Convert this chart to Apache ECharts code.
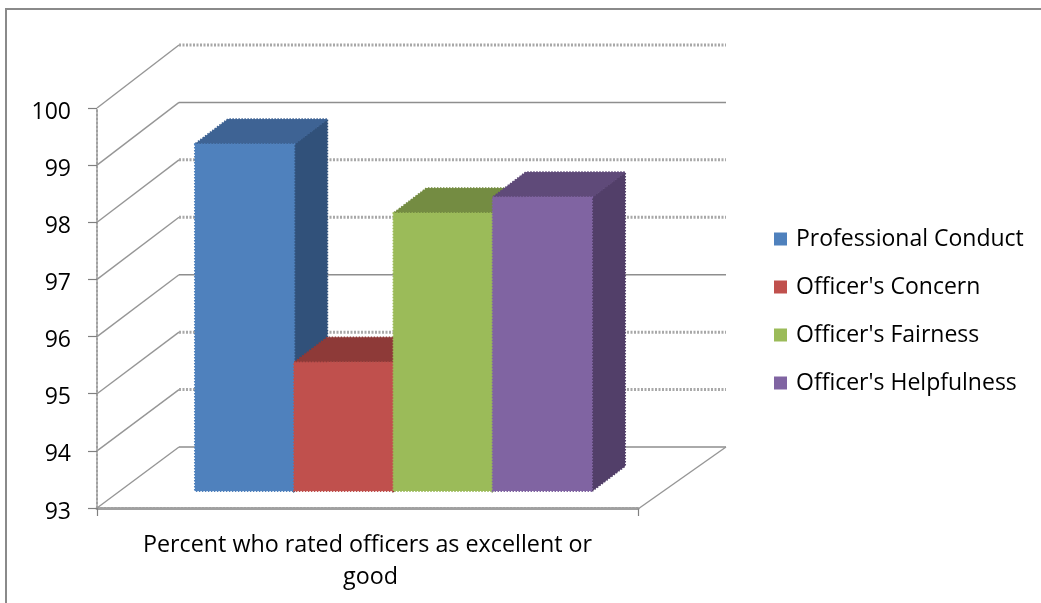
<!DOCTYPE html>
<html><head><meta charset="utf-8">
<style>html,body{margin:0;padding:0;background:#fff}#c{width:1041px;height:603px}</style>
<script src="https://cdn.jsdelivr.net/npm/echarts@6/dist/echarts.min.js"></script>
</head><body><div id="c"></div>
<script>
const categories = ["Percent who rated officers as excellent or good"];
const yMin = 93, yMax = 100, yStep = 1;
const yTicks = [93, 94, 95, 96, 97, 98, 99, 100];
const gridKinds = ["solid", "dotted", "dotted", "solid", "dotted", "dotted", "solid", "dotted"];
const seriesNames = ["Professional Conduct", "Officer's Concern", "Officer's Fairness", "Officer's Helpfulness"];
const professionalConduct = [99.07];
const officersConcern = [95.25];
const officersFairness = [97.86];
const officersHelpfulness = [98.14];
const seriesValues = [professionalConduct, officersConcern, officersFairness, officersHelpfulness];
const frontColors = ["#4F81BD", "#C0504D", "#9BBB59", "#8064A2"];
const topColors = ["#3E6394", "#8E3A38", "#748C42", "#5F4A79"];
const sideColors = ["#31517A", "#6F2D2B", "#5C7034", "#523F69"];

const FONT = '"Open Sans"';
const wallLeftDx = 82, wallRightDx = 88, wallDyLow = -61, wallDyHigh = -63;
const barFrontDx = 26, barFrontDy = -17, barDepthDx = 33, barDepthDy = -25;
const barWidthFrac = 0.1835;

function wallDy(v) { return wallDyLow + (wallDyHigh - wallDyLow) * (v - yMin) / (yMax - yMin); }

function renderWall(params, api) {
  const v = api.value(1);
  const p = api.coord([0, v]);
  const band = api.size([1, 0])[0];
  const left = p[0] - band / 2, right = p[0] + band / 2;
  const dy = wallDy(v);
  const kids = [
    { type: 'line', shape: { x1: left, y1: p[1], x2: left + wallLeftDx, y2: p[1] + dy },
      style: { stroke: '#969696', lineWidth: 1.4 } }
  ];
  const solid = gridKinds[params.dataIndex] === 'solid';
  kids.push({ type: 'line',
    shape: { x1: left + wallLeftDx, y1: p[1] + dy, x2: right + wallRightDx, y2: p[1] + dy },
    style: solid ? { stroke: '#8e8e8e', lineWidth: 1.5 }
                 : { stroke: '#a8a8a8', lineWidth: 3, lineDash: [2, 1.5] } });
  if (v === yMin) {
    kids.push({ type: 'line', shape: { x1: right, y1: p[1] + 1, x2: right + wallRightDx, y2: p[1] + dy },
      style: { stroke: '#969696', lineWidth: 1.4 } });
  }
  return { type: 'group', children: kids };
}

function makeBarRenderer(i) {
  return function (params, api) {
    const v = api.value(1);
    const top = api.coord([0, v]);
    const base = api.coord([0, yMin]);
    const band = api.size([1, 0])[0];
    const w = band * barWidthFrac;
    const x0 = top[0] + (i - 2) * w + barFrontDx;
    const x1 = x0 + w;
    const yT = top[1] + barFrontDy, yB = base[1] + barFrontDy;
    const dash = [1.5, 1.5];
    const poly = (pts, fill) => ({ type: 'polygon', shape: { points: pts },
      style: { fill: fill, stroke: fill, lineWidth: 2, lineDash: dash } });
    const flat = (pts, fill) => ({ type: 'polygon', shape: { points: pts },
      style: { fill: fill, stroke: null } });
    const sidePts = [[x1, yT], [x1 + barDepthDx, yT + barDepthDy], [x1 + barDepthDx, yB + barDepthDy], [x1, yB]];
    const topPts = [[x0, yT], [x1, yT], [x1 + barDepthDx, yT + barDepthDy], [x0 + barDepthDx, yT + barDepthDy]];
    const frontPts = [[x0, yT], [x1, yT], [x1, yB], [x0, yB]];
    return { type: 'group', children: [
      poly(sidePts, sideColors[i]), flat(sidePts, sideColors[i]),
      poly(topPts, topColors[i]), flat(topPts, topColors[i]),
      poly(frontPts, frontColors[i]), flat(frontPts, frontColors[i])
    ] };
  };
}

const series = [{
  type: 'custom', name: 'walls', silent: true, clip: false, z: 1,
  renderItem: renderWall,
  data: yTicks.map(v => [0, v])
}];
seriesNames.forEach((name, i) => {
  series.push({
    type: 'custom', name: name, clip: false, z: 3,
    itemStyle: { color: frontColors[i] },
    renderItem: makeBarRenderer(i),
    data: seriesValues[i].map((v, k) => [k, v])
  });
});

const chart = echarts.init(document.getElementById('c'), null, { renderer: 'canvas' });
chart.setOption({
  animation: false,
  backgroundColor: '#fff',
  textStyle: { fontFamily: FONT },
  grid: { left: 97, top: 108, width: 541, height: 400, containLabel: false },
  xAxis: {
    type: 'category', data: categories,
    axisLine: { show: true, onZero: false, lineStyle: { color: '#a0a0a0', width: 3, type: [2, 1.5] } },
    axisTick: { show: true, length: 8, alignWithLabel: false, lineStyle: { color: '#808080', width: 1.2 } },
    axisLabel: { interval: 0, margin: 21, color: '#000', fontFamily: FONT, fontSize: 23.3, lineHeight: 32,
      width: 480, overflow: 'break', align: 'center', padding: [0, 0, 0, 6] },
    splitLine: { show: false }
  },
  yAxis: {
    type: 'value', min: yMin, max: yMax, interval: yStep,
    axisLine: { show: true, lineStyle: { color: '#a0a0a0', width: 2, type: [2, 2] } },
    axisTick: { show: true, length: 9, lineStyle: { color: '#808080', width: 1.2 } },
    axisLabel: { margin: 26, color: '#000', fontFamily: FONT, fontSize: 23, verticalAlign: 'top', lineHeight: 8 },
    splitLine: { show: false }
  },
  legend: {
    data: seriesNames,
    orient: 'vertical', left: 774, top: 224, padding: 0,
    itemWidth: 13, itemHeight: 13, itemGap: 18, icon: 'rect', selectedMode: false,
    textStyle: { color: '#000', fontFamily: FONT, fontSize: 23, lineHeight: 30, padding: [0, 0, 0, 4] }
  },
  tooltip: { show: false },
  graphic: [{
    type: 'polyline', silent: true, z: 0,
    shape: { points: [[6, 603], [6, 9], [1041, 9]] },
    style: { stroke: '#8a8a8a', lineWidth: 2, fill: null }
  }],
  series: series
});
</script></body></html>
